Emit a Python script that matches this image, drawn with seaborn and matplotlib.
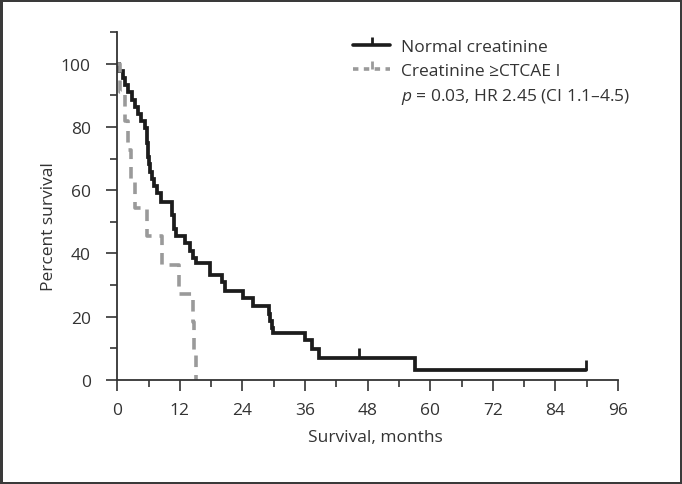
import matplotlib
matplotlib.use("Agg")
import matplotlib.pyplot as plt
import seaborn as sns
import pandas as pd
from matplotlib.lines import Line2D
from matplotlib.ticker import MultipleLocator

# ---- data ----
normal_months = [0, 0.4, 1.0, 1.5, 2.1, 2.8, 3.4, 3.9, 4.6, 5.3, 5.6, 5.7, 5.8, 5.9, 6.1, 6.3,
                 6.6, 7.1, 7.6, 8.4, 10.4, 10.9, 11.3, 12.9, 13.9, 14.5, 15.0, 17.8, 20.0,
                 20.7, 24.1, 26.0, 29.0, 29.3, 29.6, 29.9, 36.0, 37.3, 38.6, 57.1, 89.8]
normal_surv = [100, 97.7, 95.5, 93.2, 90.9, 88.6, 86.4, 84.1, 81.8, 79.5, 77.3, 75.0, 72.7, 70.5,
               68.2, 65.9, 63.6, 61.4, 59.1, 56.4, 52.3, 47.7, 45.5, 43.2, 40.9, 38.6, 36.9,
               33.2, 31.0, 28.0, 25.8, 23.5, 21.0, 18.6, 16.5, 14.7, 12.5, 9.8, 7.0, 3.2, 3.2]
normal_censor_months = [46.4, 89.8]
normal_censor_surv = [7.0, 3.2]

creat_months = [0, 0.5, 1.5, 2.1, 2.7, 3.4, 5.6, 8.5, 11.8, 14.5, 14.8, 15.0]
creat_surv = [100, 90.9, 81.8, 72.7, 63.6, 54.5, 45.5, 36.4, 27.3, 18.2, 9.1, 0]

x_ticks = [0, 12, 24, 36, 48, 60, 72, 84, 96]
y_ticks = [0, 20, 40, 60, 80, 100]

labels = ["Normal creatinine", "Creatinine \u2265CTCAE I"]
stats_text = "$p$ = 0.03, HR 2.45 (CI 1.1\u20134.5)"

# ---- style ----
sns.set_style("white")
plt.rcParams["font.family"] = ["Open Sans", "DejaVu Sans"]
plt.rcParams["mathtext.fontset"] = "custom"
plt.rcParams["mathtext.it"] = "Open Sans:italic"
plt.rcParams["mathtext.rm"] = "Open Sans"

TXT = "#333333"
AX = "#333333"
BLACK = "#1c1c1c"
GREY = "#9a9a9a"
FS = 12.5

fig = plt.figure(figsize=(6.82, 4.85), dpi=100)
fig.patch.set_edgecolor("#3a3a3a")
fig.patch.set_linewidth(2.5)
ax = fig.add_axes([117.3 / 682, (485 - 381) / 485, (618 - 117.3) / 682, (381 - 33) / 485])

df_n = pd.DataFrame({"month": normal_months, "surv": normal_surv})
df_c = pd.DataFrame({"month": creat_months, "surv": creat_surv})

sns.lineplot(data=df_n, x="month", y="surv", ax=ax, color=BLACK, linewidth=2.7,
             drawstyle="steps-post", estimator=None, solid_joinstyle="miter")
sns.lineplot(data=df_c, x="month", y="surv", ax=ax, color=GREY, linewidth=2.6,
             drawstyle="steps-post", estimator=None, linestyle=(0, (3.2, 2.2)))
sns.scatterplot(x=normal_censor_months, y=normal_censor_surv, ax=ax, marker=2, s=50,
                color=BLACK, linewidth=2.0, zorder=5)

ax.set_xlim(0, 96)
ax.set_ylim(0, 110)
ax.set_xticks(x_ticks)
ax.set_yticks(y_ticks)
ax.xaxis.set_minor_locator(MultipleLocator(6))
ax.set_yticks([10, 30, 50, 70, 90, 110], minor=True)

for s in ["top", "right"]:
    ax.spines[s].set_visible(False)
for s in ["left", "bottom"]:
    ax.spines[s].set_color(AX)
    ax.spines[s].set_linewidth(1.3)

ax.tick_params(axis="both", which="major", direction="out", length=8, width=1.2,
               color=AX, labelcolor=TXT, labelsize=FS, bottom=True, left=True)
ax.tick_params(axis="both", which="minor", direction="out", length=5, width=1.2,
               color=AX, bottom=True, left=True)
ax.tick_params(axis="x", which="major", pad=8)
ax.tick_params(axis="y", which="major", pad=11)

ax.set_xlabel("Survival, months", fontsize=FS, color=TXT)
ax.set_ylabel("Percent survival", fontsize=FS, color=TXT)
ax.xaxis.set_label_coords(0.515, -0.14)
ax.yaxis.set_label_coords(-0.12, 0.4425)

handles = [
    Line2D([], [], color=BLACK, linewidth=2.6, marker=2, markersize=6, markeredgewidth=2),
    Line2D([], [], color=GREY, linewidth=2.6, linestyle=(0, (1.5, 1.5)), marker=2,
           markersize=6, markeredgewidth=2),
    Line2D([], [], color="none"),
]
ax.legend(handles, labels + [stats_text], loc="upper left", frameon=False,
          bbox_to_anchor=(353 / 682, 1 - 40 / 485), bbox_transform=fig.transFigure,
          borderpad=0, borderaxespad=0, handlelength=2.15, handletextpad=0.6,
          labelspacing=0.42, fontsize=FS, labelcolor=TXT)

fig.savefig("out.png", dpi=100)
